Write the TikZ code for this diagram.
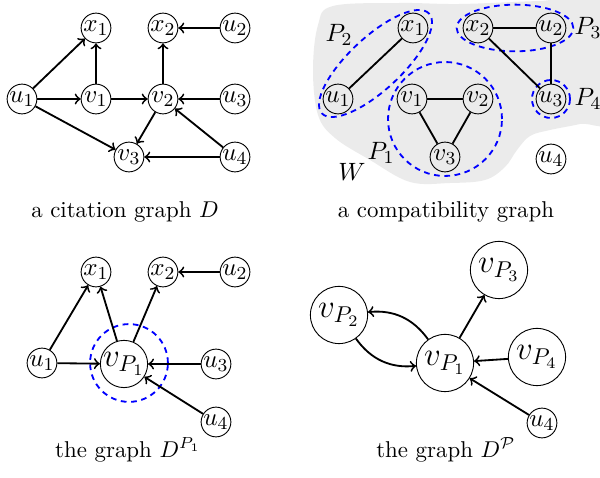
\documentclass[tikz,border=0pt]{standalone}
\usepackage{amsmath}
\usepackage{amssymb}
\usetikzlibrary{arrows.meta, calc}
\tikzset{
    vtx/.style={draw, circle, inner sep=0pt, minimum size=13pt, font=\fontsize{11}{13}\selectfont},
    bigvtx/.style={draw, circle, inner sep=0pt, minimum size=20pt, font=\Large},
    hugevtx/.style={draw, circle, inner sep=0pt, minimum size=25pt, font=\Large},
    arc/.style={->, thick},
    link/.style={thick},
    partline/.style={draw=blue, thick, dash pattern=on 2.5pt off 2pt},
    plabel/.style={font=\fontsize{11}{13}\selectfont},
    captxt/.style={font=\normalsize},
}

\begin{document}
\begin{tikzpicture}[x=0.437pt, y=-0.437pt, >=to]
\useasboundingbox (0,0) rectangle (600,478);

% top left: citation graph D
\node[vtx] (cx1) at (96,28)  {$x_1$};
\node[vtx] (cx2) at (163,28) {$x_2$};
\node[vtx] (cu2) at (235,28) {$u_2$};
\node[vtx] (cu1) at (22,99)  {$u_1$};
\node[vtx] (cv1) at (96,99)  {$v_1$};
\node[vtx] (cv2) at (163,99) {$v_2$};
\node[vtx] (cu3) at (235,99) {$u_3$};
\node[vtx] (cv3) at (129,157) {$v_3$};
\node[vtx] (cu4) at (235,157) {$u_4$};

\foreach \s/\t in {cu1/cx1, cv1/cx1, cu1/cv1, cv1/cv2, cu1/cv3, cv2/cx2,
                   cu2/cx2, cu3/cv2, cu4/cv2, cv2/cv3, cu4/cv3} {
  \draw[arc] (\s) -- (\t);
}
\node[captxt] (capD) at (125,212) {a citation graph $D$};

% top right: compatibility graph, shaded set W
\fill[black!8] plot[smooth cycle, tension=0.6] coordinates {
  (333,6) (400,3) (460,4) (540,1) (615,0) (615,115) (580,124) (550,130)
  (530,136) (517,150) (505,167) (485,180) (450,183) (410,182) (370,160)
  (335,138) (318,115) (313,70) (318,25)
};

\draw[partline] (375.5,63.5) ellipse [x radius=32pt, y radius=11.5pt, rotate=43];
\draw[partline] (515,28) ellipse [x radius=25.5pt, y radius=10.2pt];
\draw[partline] (445,119) circle [radius=24.9pt];
\draw[partline] (551,99) circle [radius=8.3pt];

\node[vtx] (wx1) at (413,28)  {$x_1$};
\node[vtx] (wx2) at (478,28)  {$x_2$};
\node[vtx] (wu2) at (551,28)  {$u_2$};
\node[vtx] (wu1) at (338,99)  {$u_1$};
\node[vtx] (wv1) at (412,99)  {$v_1$};
\node[vtx] (wv2) at (478,99)  {$v_2$};
\node[vtx] (wu3) at (551,99)  {$u_3$};
\node[vtx] (wv3) at (445,157) {$v_3$};
\node[vtx] (wu4) at (551,159) {$u_4$};

\foreach \s/\t in {wu1/wx1, wx2/wu2, wx2/wu3, wu2/wu3, wv1/wv2, wv1/wv3, wv2/wv3} {
  \draw[link] (\s) -- (\t);
}

\node[plabel] (lp2) at (339,35)  {$P_2$};
\node[plabel] (lp3) at (588,28)  {$P_3$};
\node[plabel] (lp4) at (588,99)  {$P_4$};
\node[plabel] (lp1) at (381,153) {$P_1$};
\node[plabel] (lw)  at (352,172) {$W$};
\node[captxt] (capW) at (446,212) {a compatibility graph};

% bottom left: D^{P_1}
\draw[partline] (129,363) circle [radius=17pt];
\node[vtx] (px1) at (96,272)  {$x_1$};
\node[vtx] (px2) at (163,272) {$x_2$};
\node[vtx] (pu2) at (235,272) {$u_2$};
\node[vtx] (pu1) at (42,363)  {$u_1$};
\node[bigvtx] (pv) at (124,364) {$v_{P_1}$};
\node[vtx] (pu3) at (216,364) {$u_3$};
\node[vtx] (pu4) at (216,422) {$u_4$};

\foreach \s/\t in {pu1/px1, pv/px1, pv/px2, pu2/px2, pu1/pv, pu3/pv, pu4/pv} {
  \draw[arc] (\s) -- (\t);
}
\node[captxt] (capP) at (128,450) {the graph $D^{P_1}$};

% bottom right: D^{\mathcal P}
\node[hugevtx] (qv1) at (445,363) {$v_{P_1}$};
\node[hugevtx] (qv2) at (339,315) {$v_{P_2}$};
\node[hugevtx] (qv3) at (499,270) {$v_{P_3}$};
\node[hugevtx] (qv4) at (537,357) {$v_{P_4}$};
\node[vtx] (qu4) at (542,423) {$u_4$};

\draw[arc] (qv1) to[bend right=30] (qv2);
\draw[arc] (qv2) to[bend right=30] (qv1);
\draw[arc] (qv1) -- (qv3);
\draw[arc] (qv4) -- (qv1);
\draw[arc] (qu4) -- (qv1);
\node[captxt] (capQ) at (446,450) {the graph $D^{\mathcal{P}}$};

\end{tikzpicture}
\end{document}
